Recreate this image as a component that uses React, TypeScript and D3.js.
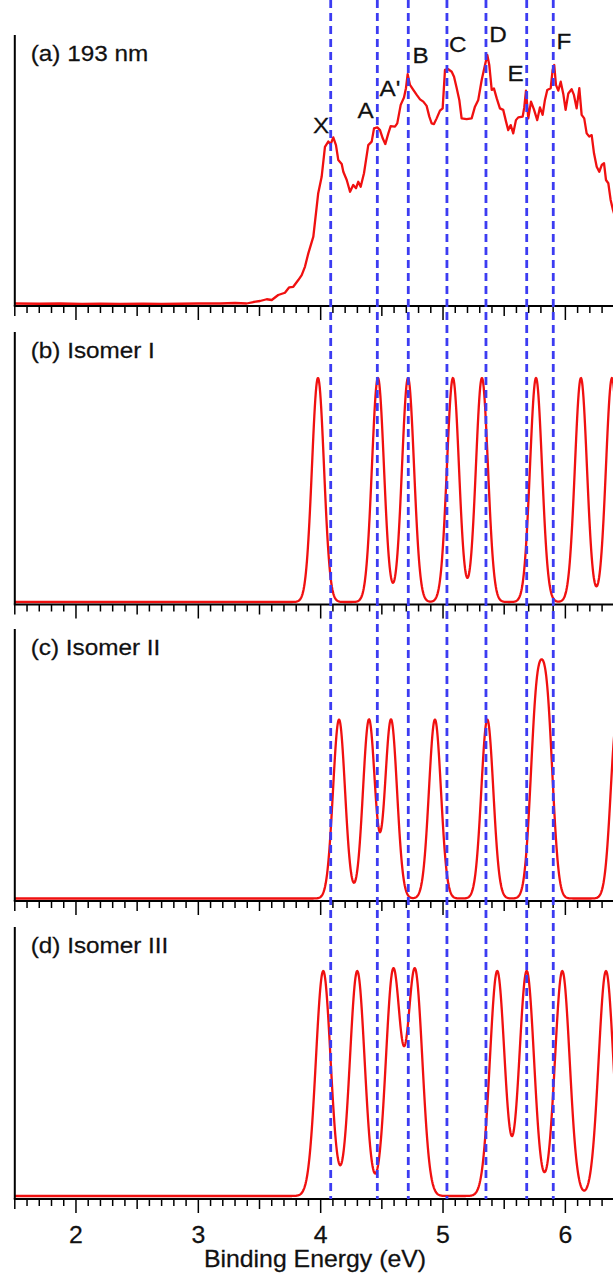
import React from "react";
import * as d3 from "d3";

const W = 613;
const H = 1275;

// (a) 193 nm photoelectron spectrum: [binding energy (eV), intensity]
const spectrum193: [number, number][] = [
  [1.5, 0.004], [1.7, 0.003], [1.87, 0.004], [2.05, 0.002], [2.2, 0.003], [2.36, 0.002],
  [2.55, 0.003], [2.7, 0.002], [2.85, 0.003], [3.0, 0.004], [3.18, 0.004], [3.3, 0.006],
  [3.395, 0.004], [3.45, 0.01], [3.504, 0.014], [3.559, 0.021], [3.6, 0.018], [3.653, 0.038],
  [3.708, 0.047], [3.743, 0.069], [3.776, 0.071], [3.817, 0.098], [3.845, 0.118],
  [3.872, 0.152], [3.899, 0.205], [3.94, 0.272], [3.98, 0.446], [4.008, 0.512],
  [4.035, 0.632], [4.062, 0.653], [4.082, 0.643], [4.103, 0.67], [4.125, 0.639],
  [4.144, 0.579], [4.172, 0.563], [4.185, 0.532], [4.213, 0.499], [4.24, 0.452],
  [4.266, 0.479], [4.289, 0.466], [4.307, 0.492], [4.327, 0.472], [4.354, 0.526],
  [4.389, 0.639], [4.417, 0.653], [4.436, 0.706], [4.463, 0.71], [4.485, 0.699],
  [4.507, 0.666], [4.528, 0.643], [4.553, 0.686], [4.572, 0.715], [4.607, 0.713],
  [4.626, 0.726], [4.654, 0.8], [4.681, 0.83], [4.697, 0.867], [4.711, 0.923],
  [4.73, 0.88], [4.757, 0.86], [4.785, 0.84], [4.812, 0.822], [4.839, 0.813],
  [4.866, 0.796], [4.888, 0.753], [4.907, 0.726], [4.926, 0.723], [4.948, 0.746],
  [4.975, 0.777], [4.997, 0.786], [5.016, 0.94], [5.043, 0.943], [5.071, 0.933],
  [5.09, 0.913], [5.112, 0.867], [5.133, 0.82], [5.152, 0.746], [5.193, 0.743],
  [5.234, 0.746], [5.261, 0.793], [5.288, 0.82], [5.316, 0.9], [5.343, 0.96],
  [5.362, 1.0], [5.378, 0.96], [5.398, 0.86], [5.416, 0.866], [5.439, 0.826],
  [5.465, 0.786], [5.492, 0.78], [5.515, 0.733], [5.533, 0.699], [5.553, 0.719],
  [5.574, 0.686], [5.596, 0.739], [5.615, 0.75], [5.651, 0.753], [5.664, 0.79],
  [5.678, 0.857], [5.697, 0.746], [5.719, 0.813], [5.743, 0.782], [5.77, 0.739],
  [5.792, 0.79], [5.814, 0.76], [5.833, 0.82], [5.852, 0.86], [5.88, 0.867],
  [5.896, 0.94], [5.909, 0.96], [5.923, 0.88], [5.942, 0.857], [5.962, 0.893],
  [5.983, 0.844], [6.002, 0.78], [6.024, 0.846], [6.051, 0.863], [6.07, 0.84],
  [6.092, 0.786], [6.114, 0.867], [6.133, 0.76], [6.154, 0.746], [6.174, 0.686],
  [6.195, 0.673], [6.215, 0.679], [6.234, 0.606], [6.256, 0.552], [6.277, 0.532],
  [6.297, 0.559], [6.316, 0.566], [6.332, 0.499], [6.351, 0.486], [6.37, 0.419],
  [6.389, 0.379], [6.42, 0.33],
];

// simulated spectra: peak positions (eV) and relative heights
const isomerIPeaks = [3.978, 4.468, 4.714, 5.081, 5.318, 5.76, 6.127, 6.381];
const isomerIHeights = [1, 1, 1, 1, 1, 1, 1, 1];
const isomerIIPeaks = [4.15, 4.395, 4.575, 4.934, 5.362, 5.762, 5.85, 6.42];
const isomerIIHeights = [1, 1, 1, 1, 1, 1, 1, 1];
const isomerIIIPeaks = [4.021, 4.299, 4.593, 4.771, 5.443, 5.684, 5.975, 6.332];
const isomerIIIHeights = [1, 1, 1, 1, 1, 1, 1, 1];
const peakWidths = [0.049, 0.049, 0.06]; // gaussian sigma (eV)

// dashed reference lines (eV)
const markerLines = [4.082, 4.463, 4.716, 5.032, 5.351, 5.684, 5.901];

// band labels in panel (a)
const bandNames = ["X", "A", "A'", "B", "C", "D", "E", "F"];
const bandEnergies = [4.003, 4.368, 4.566, 4.817, 5.12, 5.449, 5.594, 5.988];
const bandHeights = [0.719, 0.78, 0.868, 1.0, 1.044, 1.084, 0.928, 1.057];

const panelTitles = ["(a) 193 nm", "(b) Isomer I", "(c) Isomer II", "(d) Isomer III"];
const majorTicks = [2, 3, 4, 5, 6];
const tickValues = d3.range(15, 66).map((i) => i / 10);

// layout (pixels)
const panelTop = [35, 332, 629, 927];
const panelAxis = [306, 604.5, 901, 1199];
const panelBase = [304.5, 602, 898.5, 1196];
const panelUnit = [249.5, 224, 179, 225];

const FONT = "'Liberation Sans', Arial, Helvetica, sans-serif";
const RED = "#f01010";
const BLUE = "#3c3cf2";

const x = d3.scaleLinear().domain([1.5, 6.5]).range([14.8, 14.8 + 5 * 122.35]);

function Txt({ px, py, anchor = "start", size = 22.5, children }: any) {
  return (
    <text
      transform={`translate(${px},${py}) scale(1.08,1)`}
      textAnchor={anchor}
      fontSize={size}
      fontFamily={FONT}
      fill="#111"
      stroke="#111"
      strokeWidth={0.25}
    >
      {children}
    </text>
  );
}

function simulate(peaks: number[], heights: number[], sigma: number): [number, number][] {
  const xs = d3.range(1.5, 6.5001, 0.004);
  return xs.map((e) => [
    e,
    d3.sum(peaks, (p, i) => heights[i] * Math.exp(-((e - p) ** 2) / (2 * sigma * sigma))),
  ]);
}

export default function App() {
  const series: [number, number][][] = [
    spectrum193,
    simulate(isomerIPeaks, isomerIHeights, peakWidths[0]),
    simulate(isomerIIPeaks, isomerIIHeights, peakWidths[1]),
    simulate(isomerIIIPeaks, isomerIIIHeights, peakWidths[2]),
  ];

  const yScales = panelBase.map((b, i) =>
    d3.scaleLinear().domain([0, 1]).range([b, b - panelUnit[i]])
  );

  return (
    <svg
      width={W}
      height={H}
      style={{ position: "absolute", left: 0, top: 0, background: "#fff" }}
    >
      <rect width={W} height={H} fill="#fff" />

      {series.map((data, i) => {
        const line = d3
          .line<[number, number]>()
          .x((d) => x(d[0]))
          .y((d) => yScales[i](d[1]));
        return (
          <g key={i}>
            <path d={line(data) || ""} fill="none" stroke={RED} strokeWidth={2.3} strokeLinejoin="round" />
            {/* left axis */}
            <line x1={x(1.5)} x2={x(1.5)} y1={panelTop[i]} y2={panelAxis[i]} stroke="#000" strokeWidth={2} />
            {/* bottom axis */}
            <line x1={x(1.5) - 1} x2={W} y1={panelAxis[i]} y2={panelAxis[i]} stroke="#000" strokeWidth={2} />
            {tickValues.map((t) => {
              const k = Math.round(t * 10);
              const len = k % 10 === 0 ? 14 : k % 5 === 0 ? 10 : 7;
              return (
                <line
                  key={k}
                  x1={x(t)}
                  x2={x(t)}
                  y1={panelAxis[i]}
                  y2={panelAxis[i] + len}
                  stroke="#000"
                  strokeWidth={1.5}
                />
              );
            })}
            <Txt px={30.7} py={panelTop[i] + 25.7}>{panelTitles[i]}</Txt>
          </g>
        );
      })}

      {markerLines.map((m) => (
        <line
          key={m}
          x1={x(m)}
          x2={x(m)}
          y1={0}
          y2={panelAxis[3]}
          stroke={BLUE}
          strokeWidth={2.8}
          strokeDasharray="8,5"
        />
      ))}

      {bandNames.map((n, i) => (
        <Txt key={n} px={x(bandEnergies[i])} py={yScales[0](bandHeights[i]) + 7.8} anchor="middle">
          {n}
        </Txt>
      ))}

      {majorTicks.map((t) => (
        <Txt key={t} px={x(t)} py={1243.3} anchor="middle" size={23}>
          {t}
        </Txt>
      ))}
      <Txt px={315} py={1267.3} anchor="middle" size={23}>
        Binding Energy (eV)
      </Txt>
    </svg>
  );
}
